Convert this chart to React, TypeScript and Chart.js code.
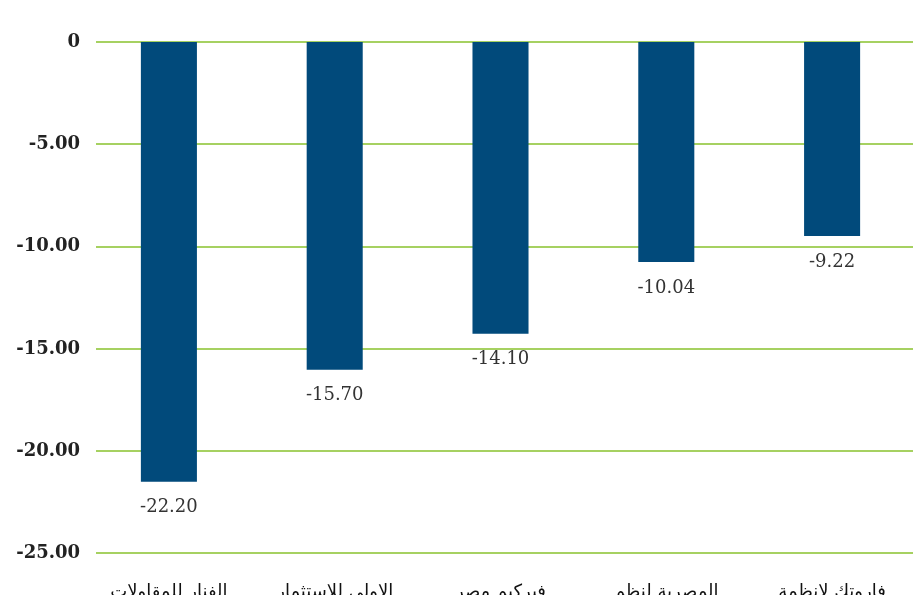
import React, { useEffect, useRef } from "react";
import { Chart, registerables } from "chart.js";

Chart.register(...registerables);

const categories = [
  "الفنار للمقاولات",
  "الاولى للاستثمار",
  "فيركيم مصر",
  "المصرية لنظم",
  "فاروتك لانظمة",
];
// bar lengths as drawn in the picture
const barValues = [-21.5, -16.02, -14.26, -10.76, -9.48];
// value labels as printed under the bars
const printedLabels = ["-22.20", "-15.70", "-14.10", "-10.04", "-9.22"];
const yTicks = [0, -5, -10, -15, -20, -25];

const gridPlugin = {
  id: "customGrid",
  beforeDatasetsDraw(chart: any) {
    const { ctx, chartArea, scales } = chart;
    const y = scales.y;
    ctx.save();
    ctx.strokeStyle = "#a6d161";
    ctx.lineWidth = 2;
    for (const t of yTicks) {
      const py = Math.round(y.getPixelForValue(t));
      ctx.beginPath();
      ctx.moveTo(chartArea.left + 10, py);
      ctx.lineTo(chart.width - 2, py);
      ctx.stroke();
    }
    ctx.restore();
  },
};

const labelPlugin = {
  id: "valueLabels",
  afterDatasetsDraw(chart: any) {
    const { ctx } = chart;
    const meta = chart.getDatasetMeta(0);
    ctx.save();
    ctx.fillStyle = "#333333";
    ctx.font = "18px 'DejaVu Serif', serif";
    ctx.textAlign = "center";
    ctx.textBaseline = "middle";
    meta.data.forEach((el: any, i: number) => {
      ctx.fillText(printedLabels[i], el.x, el.y + 26);
    });
    ctx.restore();
  },
};

export default function App() {
  const ref = useRef<HTMLCanvasElement>(null);
  useEffect(() => {
    if (!ref.current) return;
    const chart = new Chart(ref.current, {
      type: "bar",
      data: {
        labels: categories,
        datasets: [
          {
            data: barValues,
            backgroundColor: "#014a7b",
            barPercentage: 0.338,
            categoryPercentage: 1,
          },
        ],
      },
      options: {
        responsive: false,
        animation: false,
        layout: { padding: { top: 42, right: 0, left: 0, bottom: 6 } },
        plugins: {
          legend: { display: false },
          tooltip: { enabled: false },
        },
        scales: {
          x: {
            grid: { display: false },
            border: { display: false },
            ticks: {
              color: "#111111",
              font: { family: "'DejaVu Sans', sans-serif", size: 18 },
              padding: 20,
              maxRotation: 0,
              autoSkip: false,
            },
          },
          y: {
            min: -25,
            max: 0,
            afterFit(scale: any) {
              scale.width = 86;
            },
            grid: { display: false },
            border: { display: false },
            ticks: {
              stepSize: 5,
              padding: -2,
              color: "#222222",
              font: { family: "'DejaVu Serif', serif", size: 18, weight: "bold" },
              callback: (v: any) => (Number(v) === 0 ? "0" : Number(v).toFixed(2)),
            },
          },
        },
      },
      plugins: [gridPlugin, labelPlugin],
    });
    return () => chart.destroy();
  }, []);
  return (
    <div style={{ position: "fixed", left: 0, top: 0, width: 915, height: 595, overflow: "hidden", background: "#fff" }}>
      <canvas ref={ref} width={915} height={629} style={{ display: "block" }} />
    </div>
  );
}
